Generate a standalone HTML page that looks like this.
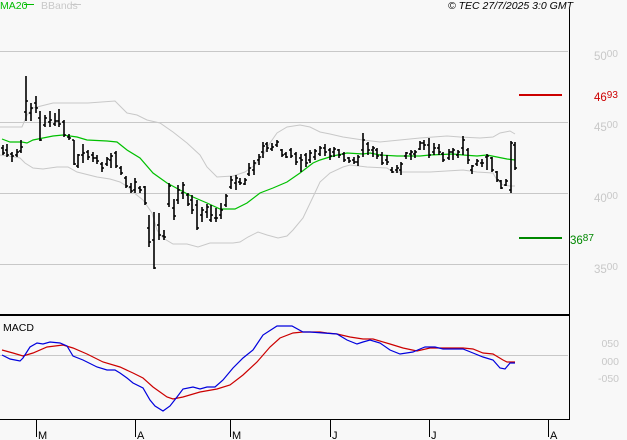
<!DOCTYPE html>
<html><head><meta charset="utf-8"><style>
html,body{margin:0;padding:0;background:#f8f8f8;}
svg{display:block;font-family:"Liberation Sans",sans-serif;}
</style></head><body>
<svg width="627" height="440" viewBox="0 0 627 440" xmlns="http://www.w3.org/2000/svg">
<rect width="627" height="440" fill="#f8f8f8"/>
<text x="0" y="9" font-size="10.5" fill="#00bb00">MA20</text>
<line x1="24" y1="4.5" x2="34" y2="4.5" stroke="#00bb00" stroke-width="1"/>
<text x="41" y="9" font-size="10.5" fill="#c8c8c8">BBands</text>
<line x1="71" y1="4.5" x2="81" y2="4.5" stroke="#c8c8c8" stroke-width="1"/>
<text x="573" y="9" font-size="10.5" font-style="italic" fill="#000" text-anchor="end">© TEC 27/7/2025 3:0 GMT</text>
<g stroke="#c8c8c8" stroke-width="1" shape-rendering="crispEdges">
<line x1="0" y1="51.5" x2="568" y2="51.5"/>
<line x1="0" y1="122.5" x2="568" y2="122.5"/>
<line x1="0" y1="193.5" x2="568" y2="193.5"/>
<line x1="0" y1="264.5" x2="568" y2="264.5"/>
<line x1="0" y1="355.5" x2="568" y2="355.5"/>
</g>
<g stroke="#000" shape-rendering="crispEdges">
<line x1="569.5" y1="9" x2="569.5" y2="420" stroke-width="1"/>
<line x1="0" y1="315" x2="570" y2="315" stroke-width="2"/>
<line x1="0" y1="419.5" x2="570" y2="419.5" stroke-width="1"/>
<line x1="36.5" y1="420" x2="36.5" y2="437"/>
<line x1="135.5" y1="420" x2="135.5" y2="437"/>
<line x1="230.5" y1="420" x2="230.5" y2="437"/>
<line x1="330.5" y1="420" x2="330.5" y2="437"/>
<line x1="429.5" y1="420" x2="429.5" y2="437"/>
<line x1="548.5" y1="420" x2="548.5" y2="437"/>
</g>
<g font-size="11" fill="#000">
<text x="38" y="439">M</text>
<text x="137" y="439">A</text>
<text x="232" y="439">M</text>
<text x="332" y="439">J</text>
<text x="431" y="439">J</text>
<text x="550" y="439">A</text>
</g>
<g font-size="11.5" fill="#c8c8c8">
<text x="594" y="60">50<tspan font-size="10" dy="-3">00</tspan></text>
<text x="594" y="131">45<tspan font-size="10" dy="-3">00</tspan></text>
<text x="594" y="202">40<tspan font-size="10" dy="-3">00</tspan></text>
<text x="594" y="273">35<tspan font-size="10" dy="-3">00</tspan></text>
</g>
<text x="594" y="101" font-size="11.5" fill="#cc0000">46<tspan font-size="10" dy="-3">93</tspan></text>
<text x="570" y="244" font-size="11.5" fill="#008800">36<tspan font-size="10" dy="-3">87</tspan></text>
<line x1="519" y1="95" x2="562" y2="95" stroke="#cc0000" stroke-width="2"/>
<line x1="519" y1="238" x2="562" y2="238" stroke="#008800" stroke-width="2"/>
<g font-size="10.5" fill="#c8c8c8" text-anchor="end">
<text x="619" y="347">050</text>
<text x="619" y="365">000</text>
<text x="619" y="382">-050</text>
</g>
<text x="3" y="331" font-size="10.5" fill="#000">MACD</text>
<g fill="none" stroke="#c8c8c8" stroke-width="1">
<polyline points="0,127 22,127 27,115 33,108 53,103 88,103 115,101 127,113 137,115 147,120 160,123 173,132 187,143 200,155 207,167 217,177 233,176 245,172 255,165 263,155 270,143 277,133 287,127 300,125 310,127 320,132 330,134 343,137 363,140 380,142 420,138 447,136 460,137 480,138 493,137 500,133 510,131 515,134"/>
<polyline points="0,155 15,157 20,158 25,163 33,168 43,169 57,167 68,167 77,172 97,177 110,179 120,182 128,187 133,192 143,200 152,213 157,230 163,238 173,244 187,244 198,247 210,243 233,243 240,242 248,237 258,232 267,235 278,238 287,236 293,230 303,218 313,197 320,182 330,173 343,167 350,165 367,167 387,168 393,172 430,172 463,170 477,172 493,173 497,180 503,185 510,186 515,186"/>
</g>
<polyline fill="none" stroke="#00c000" stroke-width="1.2" points="2,139 10,142 22,142 27,143 33,140 43,138 53,136 63,135 77,137 87,140 107,141 117,142 127,150 140,158 153,173 167,183 180,190 193,197 207,203 220,209 235,209 247,203 260,193 273,188 287,182 300,173 313,163 320,160 333,156 347,153 363,154 370,153 380,155 397,156 420,156 430,155 453,154 463,155 477,156 487,155 497,157 507,159 515,160"/>
<path fill="none" stroke="#000" stroke-width="1.6" d="M3 145V155M1 148H3M3 153H5 M7 144V157M5 150H7M7 155H9 M12 152V162M10 154H12M12 156H14 M17 149V157M15 155H17M17 152H19 M21 140V153M19 151H21M21 147H23 M26 76V121M24 112H26M26 101H28 M31 103V121M29 113H31M31 108H33 M36 96V113M34 103H36M36 108H38 M40 111V141M38 118H40M40 140H42 M45 115V127M43 125H45M45 118H47 M50 111V127M48 122H50M50 120H52 M55 113V126M53 124H55M55 121H57 M59 109V127M57 121H59M59 124H61 M64 120V137M62 122H64M64 135H66 M69 134V140M67 137H69M69 138H71 M74 140V165M72 140H74M74 164H76 M78 154V168M76 166H78M78 155H80 M83 144V163M81 155H83M83 153H85 M88 150V160M86 152H88M88 157H90 M93 152V162M91 155H93M93 158H95 M97 155V164M95 158H97M97 161H99 M102 162V172M100 164H102M102 168H104 M107 157V166M105 164H107M107 159H109 M111 153V168M109 160H111M111 156H113 M116 151V168M114 153H116M116 166H118 M121 166V175M119 168H121M121 173H123 M126 176V188M124 178H126M126 186H128 M131 183V193M129 187H131M131 191H133 M135 178V193M133 190H135M135 182H137 M140 186V193M138 188H140M140 190H142 M145 186V205M143 187H145M145 203H147 M149 215V247M147 228H149M149 242H151 M154 212V269M152 240H154M154 268H156 M159 213V240M157 225H159M159 235H161 M164 230V240M162 236H164M164 237H166 M169 183V207M167 204H169M169 186H171 M174 199V220M172 208H174M174 216H176 M178 185V204M176 200H178M178 190H180 M183 182V199M181 193H183M183 185H185 M188 193V206M186 195H188M188 204H190 M192 195V214M190 200H192M192 210H194 M197 200V230M195 205H197M197 228H199 M202 207V222M200 215H202M202 210H204 M207 204V218M205 212H207M207 207H209 M211 205V222M209 220H211M211 215H213 M216 208V222M214 218H216M216 218H218 M221 203V219M219 215H221M221 210H223 M226 194V207M224 205H226M226 196H228 M231 176V189M229 187H231M231 180H233 M236 175V190M234 183H236M236 178H238 M240 178V185M238 182H240M240 183H242 M245 178V185M243 184H245M245 180H247 M249 163V176M247 174H249M249 168H251 M254 160V175M252 170H254M254 163H256 M259 154V165M257 160H259M259 157H261 M263 142V158M261 152H263M263 146H265 M267 142V152M265 144H267M267 148H269 M272 143V151M270 149H272M272 147H274 M277 140V147M275 145H277M277 142H279 M282 149V157M280 150H282M282 155H284 M286 152V158M284 154H286M286 157H288 M291 148V158M289 150H291M291 156H293 M296 152V165M294 154H296M296 162H298 M301 154V172M299 158H301M301 160H303 M306 153V167M304 155H306M306 163H308 M310 150V163M308 160H310M310 153H312 M315 149V160M313 157H315M315 151H317 M320 146V156M318 154H320M320 148H322 M325 144V156M323 148H325M325 152H327 M330 148V160M328 150H330M330 156H332 M334 147V157M332 152H334M334 149H336 M339 149V158M337 150H339M339 155H341 M344 152V162M342 154H344M344 160H346 M349 157V163M347 158H349M349 161H351 M354 157V164M352 160H354M354 162H356 M358 155V166M356 162H358M358 157H360 M363 133V157M361 150H363M363 140H365 M368 142V155M366 144H368M368 150H370 M373 146V157M371 150H373M373 148H375 M377 148V159M375 150H377M377 156H379 M382 152V165M380 155H382M382 163H384 M387 155V165M385 160H387M387 162H389 M392 167V173M390 170H392M392 172H394 M397 165V173M395 170H397M397 168H399 M401 162V175M399 170H401M401 164H403 M406 152V159M404 156H406M406 153H408 M411 150V160M409 154H411M411 152H413 M415 150V158M413 154H415M415 152H417 M420 141V150M418 149H420M420 143H422 M424 140V150M422 143H424M424 145H426 M429 138V158M427 145H429M429 155H431 M434 143V155M432 152H434M434 148H436 M439 144V155M437 148H439M439 152H441 M443 152V162M441 154H443M443 160H445 M449 149V160M447 158H449M449 152H451 M453 148V160M451 152H453M453 150H455 M458 150V158M456 155H458M458 152H460 M463 136V155M461 148H463M463 140H465 M468 148V164M466 150H468M468 160H470 M472 165V174M470 170H472M472 166H474 M477 159V166M475 164H477M477 161H479 M482 159V167M480 163H482M482 163H484 M487 154V170M485 157H487M487 156H489 M492 157V172M490 158H492M492 170H494 M497 171V182M495 172H497M497 180H499 M501 180V189M499 181H501M501 188H503 M506 179V186M504 185H506M506 181H508 M511 141V193M509 190H511M511 143H513 M515 142V170M513 145H515M515 168H517"/>
<polyline fill="none" stroke="#cc0000" stroke-width="1.2" points="2,350 13,353 23,356 33,353 47,347 63,345 73,348 87,354 103,362 120,367 133,373 143,378 153,387 167,397 173,399 183,397 200,392 217,389 230,385 243,375 257,362 270,347 280,338 293,333 303,332 320,332 327,333 337,334 350,337 363,339 373,339 390,344 403,348 417,351 430,348 463,348 473,349 483,353 493,354 503,360 507,362 515,362"/>
<polyline fill="none" stroke="#0000dd" stroke-width="1.2" points="2,355 10,359 20,361 23,358 30,347 37,343 43,344 50,342 60,343 67,346 73,356 83,360 97,367 107,370 115,370 120,373 127,378 133,383 143,388 150,400 155,406 163,411 170,406 177,397 183,389 193,387 200,389 207,387 215,387 223,380 233,368 243,358 253,350 263,335 277,326 292,326 303,332 310,332 337,334 347,340 357,344 363,342 370,340 380,343 390,350 400,354 413,352 420,349 425,347 435,347 443,349 463,349 473,353 483,357 493,360 500,368 505,369 510,363 515,363"/>
</svg>
</body></html>
